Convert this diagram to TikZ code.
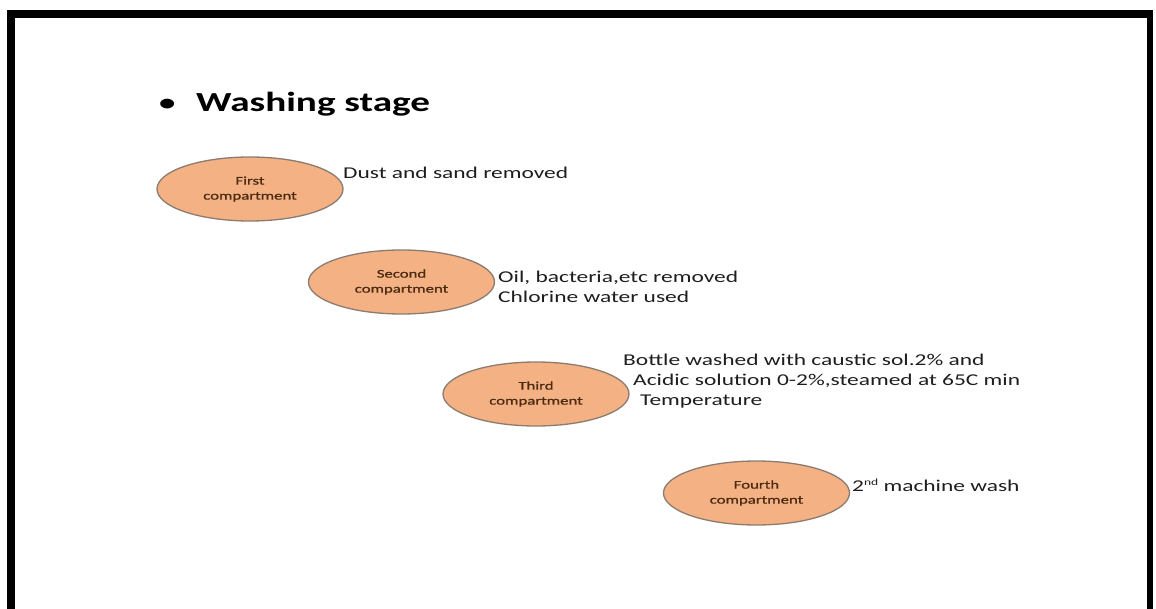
\documentclass[tikz,border=0pt]{standalone}
\usepackage{fontspec}
\setmainfont{Carlito}[FakeStretch=1.42]
\newfontfamily\compfont{Carlito}[FakeStretch=1.42, FakeBold=0.8]
\usetikzlibrary{shapes.geometric}
\definecolor{fillc}{HTML}{F4B183}
\definecolor{edgec}{HTML}{8C7B70}
\definecolor{compt}{HTML}{4A2A12}
\definecolor{labt}{HTML}{1E1E1E}
\tikzset{
  comp/.style={ellipse, draw=edgec, fill=fillc, line width=1.3pt,
    minimum width=186pt, minimum height=64pt, inner sep=0pt, align=center,
    font=\compfont\fontsize{11.8}{15}\selectfont, text=compt},
  lab/.style={anchor=base west, inner sep=0pt, text=labt,
    font=\fontsize{16.5}{20}\selectfont},
  frame/.style={fill=black}
}
\begin{document}
\begin{tikzpicture}[x=1pt,y=-1pt]
\useasboundingbox (0,0) rectangle (1156,609);
\fill[white] (0,0) rectangle (1156,609);
% frame
\fill[frame] (7,10) rectangle (1153,18);
\fill[frame] (7,10) rectangle (15,609);
\fill[frame] (1147,10) rectangle (1153,609);
% title
\node[anchor=base west, inner sep=0pt, font=\fontsize{23}{28}\bfseries] (bul) at (159,111) {•};
\node[anchor=base west, inner sep=0pt, font=\fontsize{27.6}{32}\bfseries] (title) at (196,112) {Washing stage};
% compartments
\node[comp] (c1) at (250,189) {First\\compartment};
\node[comp] (c2) at (401.5,282) {Second\\compartment};
\node[comp] (c3) at (536,394) {Third\\compartment};
\node[comp] (c4) at (756.5,493) {Fourth\\compartment};
% labels
\node[lab] (l1) at (343,179) {Dust and sand removed};
\node[lab] (l2a) at (498,283) {Oil, bacteria,etc removed};
\node[lab] (l2b) at (498,303) {Chlorine water used};
\node[lab] (l3a) at (623,365) {Bottle washed with caustic sol.2\% and};
\node[lab] (l3b) at (633,385) {Acidic solution 0-2\%,steamed at 65C min};
\node[lab] (l3c) at (640,405) {Temperature};
\node[lab] (l4) at (852,491) {2\raisebox{6pt}{\fontsize{9.5}{10}\selectfont nd} machine wash};
\end{tikzpicture}
\end{document}
